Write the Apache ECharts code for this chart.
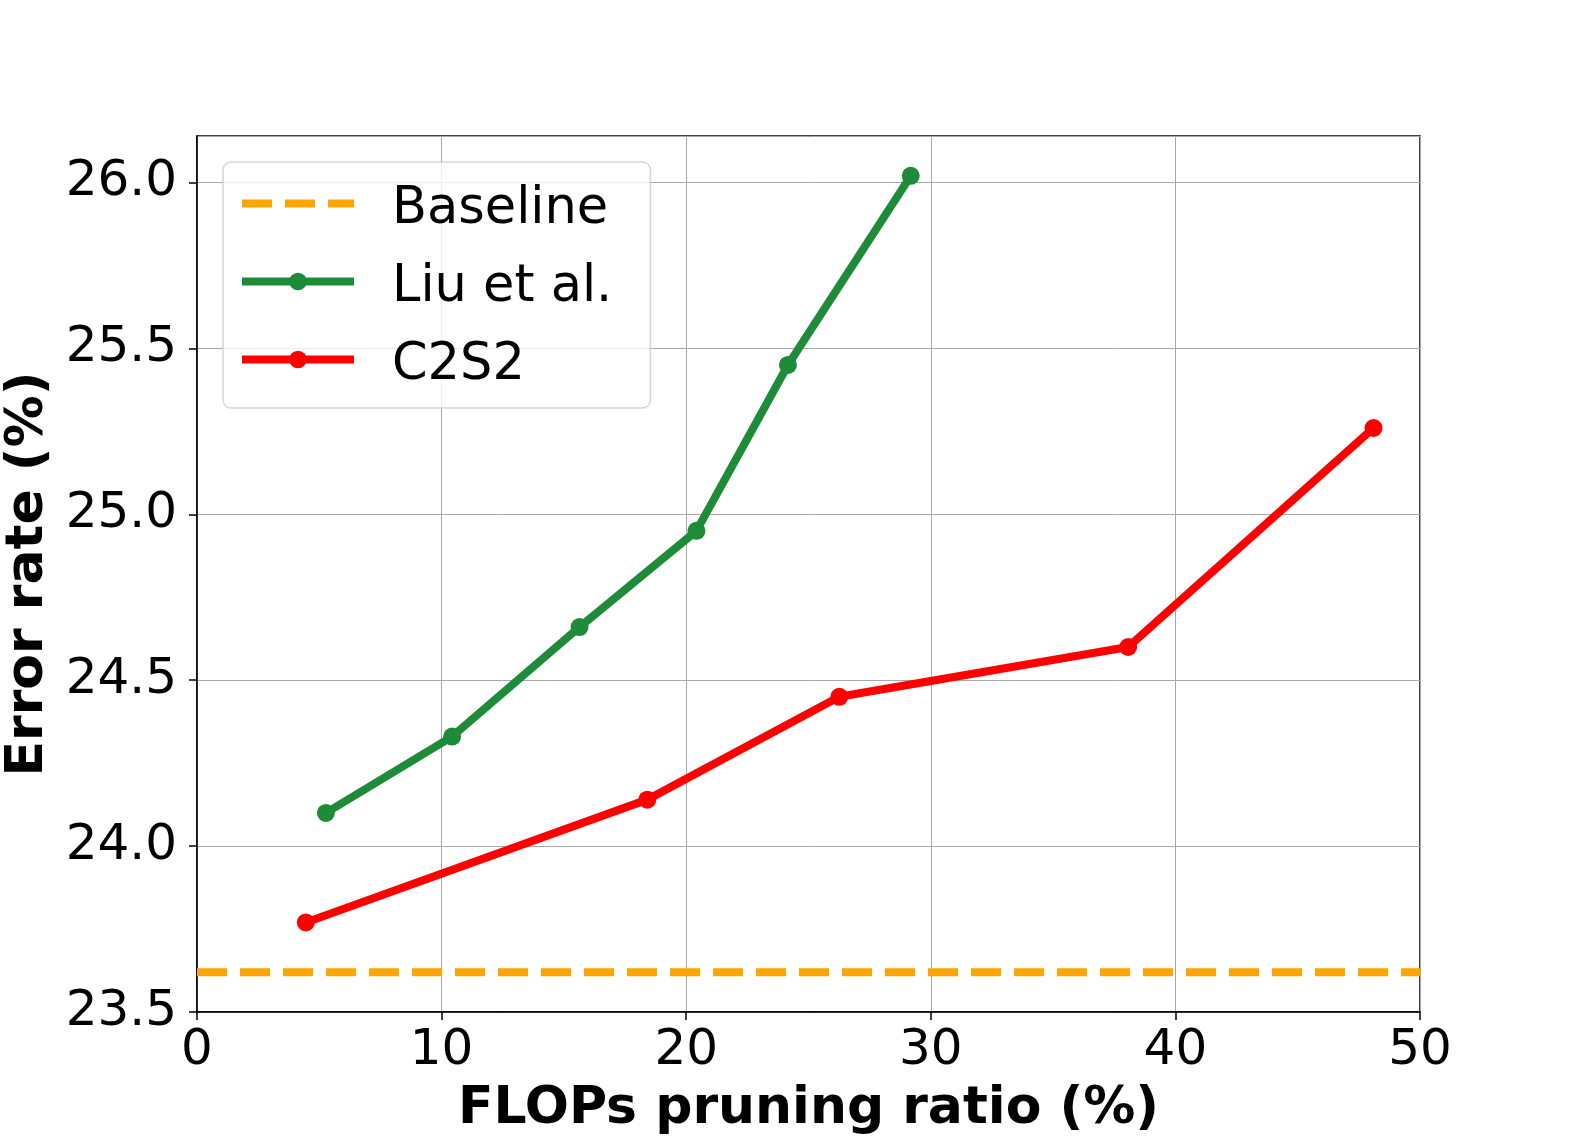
<!DOCTYPE html>
<html>
<head>
<meta charset="utf-8">
<script src="https://cdn.jsdelivr.net/npm/echarts@6/dist/echarts.min.js"></script>
<style>
  html, body { margin: 0; padding: 0; background: #fff; }
  #chart { width: 1578px; height: 1137px; }
</style>
</head>
<body>
<div id="chart"></div>
<script>
// data
var seriesNames = ['Baseline', 'Liu et al.', 'C2S2'];
var baselineX = [0, 50];
var baselineY = [23.62, 23.62];
var liuX = [5.27, 10.43, 15.64, 20.42, 24.16, 29.18];
var liuY = [24.10, 24.33, 24.66, 24.95, 25.45, 26.02];
var c2s2X = [4.45, 18.41, 26.26, 38.07, 48.1];
var c2s2Y = [23.77, 24.14, 24.45, 24.60, 25.26];
var xTicks = [0, 10, 20, 30, 40, 50];
var yTicks = [23.5, 24.0, 24.5, 25.0, 25.5, 26.0];

function pairs(xs, ys) {
    return xs.map(function (x, i) { return [x, ys[i]]; });
}

var font = '"DejaVu Sans", sans-serif';
var chart = echarts.init(document.getElementById('chart'), null, { renderer: 'canvas' });

var option = {
    animation: false,
    backgroundColor: '#fff',
    grid: {
        left: 197, top: 136, width: 1223, height: 876,
        outerBoundsMode: 'none',
        containLabel: false,
        show: true, borderColor: '#000', borderWidth: 1.5, backgroundColor: 'transparent'
    },
    xAxis: {
        type: 'value',
        min: xTicks[0], max: xTicks[xTicks.length - 1], interval: 10,
        name: 'FLOPs pruning ratio (%)',
        nameLocation: 'middle',
        nameGap: 71,
        nameTextStyle: { fontFamily: font, fontSize: 52, fontWeight: 'bold', color: '#000' },
        axisLine: { show: true, lineStyle: { color: '#000', width: 1.5 } },
        axisTick: { show: true, inside: false, length: 8, lineStyle: { color: '#000', width: 1.5 } },
        axisLabel: { fontFamily: font, fontSize: 50, color: '#000', margin: 14 },
        splitLine: { show: true, lineStyle: { color: '#a8a8a8', width: 1 } }
    },
    yAxis: {
        type: 'value',
        min: yTicks[0], max: 26.14, interval: 0.5,
        name: 'Error rate (%)',
        nameLocation: 'middle',
        nameMoveOverlap: false,
        nameGap: 143,
        nameTextStyle: { fontFamily: font, fontSize: 52, fontWeight: 'bold', color: '#000' },
        axisLine: { show: true, lineStyle: { color: '#000', width: 1.5 } },
        axisTick: { show: true, inside: false, length: 8, lineStyle: { color: '#000', width: 1.5 } },
        axisLabel: {
            fontFamily: font, fontSize: 50, color: '#000', margin: 20,
            showMaxLabel: false,
            formatter: function (v) { return yTicks.indexOf(v) >= 0 ? v.toFixed(1) : ''; }
        },
        splitLine: { show: true, lineStyle: { color: '#a8a8a8', width: 1 } }
    },
    legend: {
        orient: 'vertical',
        left: 223, top: 162,
        padding: [10, 38, 17, 15],
        itemWidth: 112,
        itemHeight: 22,
        itemGap: 15,
        backgroundColor: 'rgba(255,255,255,0.8)',
        borderColor: 'rgba(204,204,204,0.8)',
        borderWidth: 1.5,
        borderRadius: 8,
        formatter: '{t|{name}}',
        textStyle: {
            fontFamily: font, fontSize: 51, color: '#000',
            rich: { t: { fontFamily: font, fontSize: 51, color: '#000', lineHeight: 48, padding: [12, 0, 0, 33] } }
        },
        data: [
            { name: seriesNames[0], itemStyle: { opacity: 0 }, lineStyle: { width: 8, type: [30, 13], cap: 'butt' } },
            { name: seriesNames[1], lineStyle: { width: 8 } },
            { name: seriesNames[2], lineStyle: { width: 8 } }
        ]
    },
    series: [
        {
            name: seriesNames[0],
            type: 'line',
            data: pairs(baselineX, baselineY),
            showSymbol: false,
            symbol: 'none',
            color: '#ffa500',
            lineStyle: { color: '#ffa500', width: 8, type: [30, 13], cap: 'butt' },
            z: 2
        },
        {
            name: seriesNames[1],
            type: 'line',
            data: pairs(liuX, liuY),
            symbol: 'circle',
            symbolSize: 18,
            color: '#1e8b39',
            itemStyle: { color: '#1e8b39' },
            lineStyle: { color: '#1e8b39', width: 8 },
            z: 3
        },
        {
            name: seriesNames[2],
            type: 'line',
            data: pairs(c2s2X, c2s2Y),
            symbol: 'circle',
            symbolSize: 18,
            color: '#ff0000',
            itemStyle: { color: '#ff0000' },
            lineStyle: { color: '#ff0000', width: 8 },
            z: 4
        }
    ]
};

chart.setOption(option);
</script>
</body>
</html>
